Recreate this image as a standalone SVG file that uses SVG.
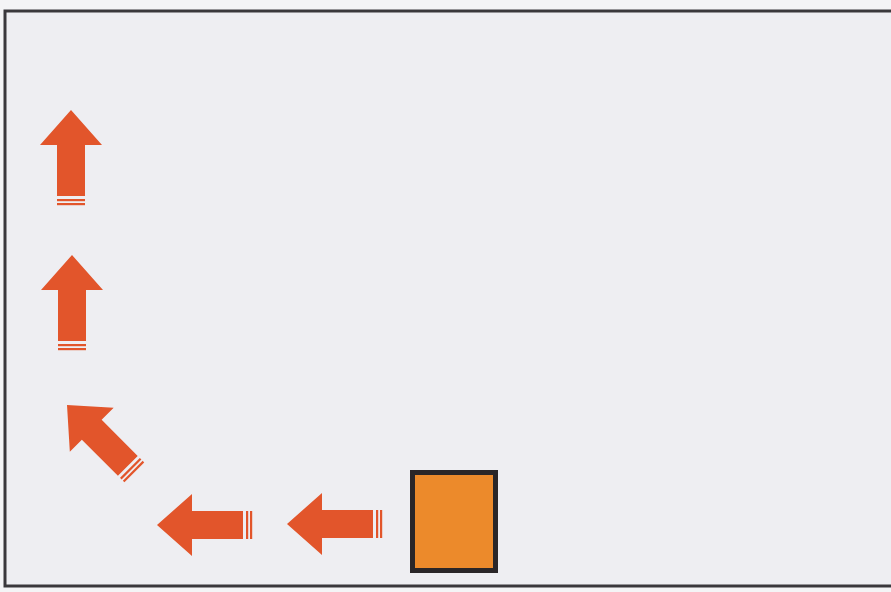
<svg xmlns="http://www.w3.org/2000/svg" width="891" height="592" viewBox="0 0 891 592">
<style>
.arrow{fill:#E2552B}
.box{fill:#EC8A2B;stroke:#2A2628;stroke-width:5}
.frame{fill:#EEEEF2;stroke:#3A383C;stroke-width:3}
</style>
<defs>
<g id="arr">
<path class="arrow" d="M0,0 L31,35 L14,35 L14,86 L-14,86 L-14,35 L-31,35 Z"/>
<rect class="arrow" x="-14" y="89" width="28" height="2.2"/>
<rect class="arrow" x="-14" y="93" width="28" height="2.2"/>
</g>
</defs>
<rect x="0" y="0" width="891" height="592" fill="#F4F4F6"/>
<rect class="frame" x="5" y="11" width="892" height="575"/>
<g id="connectors">
<use id="a1" href="#arr" transform="translate(71,110)"/>
<use id="a2" href="#arr" transform="translate(72,255)"/>
<use id="a3" href="#arr" transform="translate(67,405) rotate(-45)"/>
<use id="a4" href="#arr" transform="translate(157,525) rotate(-90)"/>
<use id="a5" href="#arr" transform="translate(287,524) rotate(-90)"/>
</g>
<g id="square">
<rect class="box" x="412.5" y="472.5" width="83" height="98"/>
</g>
</svg>
